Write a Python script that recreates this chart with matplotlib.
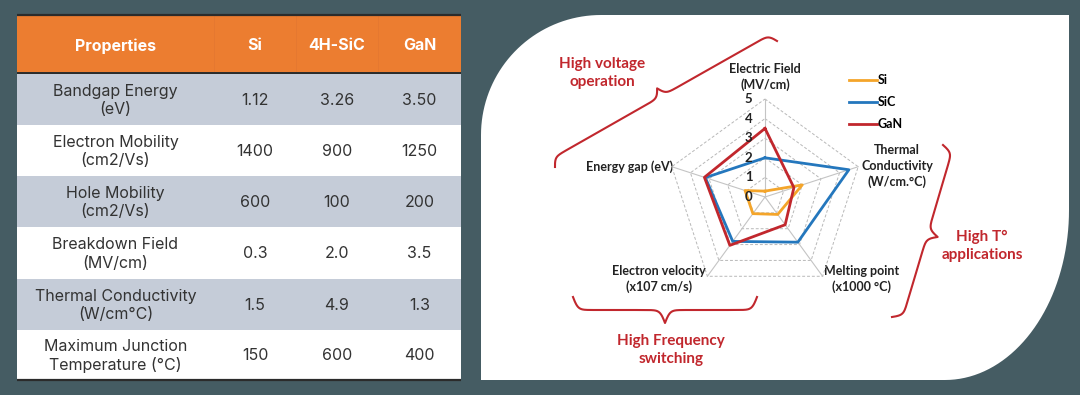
import numpy as np
import matplotlib
matplotlib.use('Agg')
import matplotlib.pyplot as plt
from matplotlib.patches import Rectangle, Polygon

# table data
headers = ['Properties', 'Si', '4H-SiC', 'GaN']
properties = ['Bandgap Energy\n(eV)', 'Electron Mobility\n(cm2/Vs)',
              'Hole Mobility\n(cm2/Vs)', 'Breakdown Field\n(MV/cm)',
              'Thermal Conductivity\n(W/cm°C)', 'Maximum Junction\nTemperature (°C)']
si_tab = ['1.12', '1400', '600', '0.3', '1.5', '150']
sic_tab = ['3.26', '900', '100', '2.0', '4.9', '600']
gan_tab = ['3.50', '1250', '200', '3.5', '1.3', '400']

# radar data
radar_axes = ['Electric Field\n(MV/cm)', 'Thermal\nConductivity\n(W/cm.°C)',
              'Melting point\n(x1000 °C)', 'Electron velocity\n(x107 cm/s)',
              'Energy gap (eV)']
si_r = [0.3, 2.0, 1.1, 1.05, 1.07]
sic_r = [2.0, 4.5, 2.85, 2.8, 3.2]
gan_r = [3.5, 1.55, 1.75, 3.05, 3.25]
series = {'Si': (si_r, '#f4a52a'), 'SiC': (sic_r, '#2477bd'), 'GaN': (gan_r, '#c1272d')}

BG = '#455c63'
RED = '#c1272d'
W, H = 1080, 395

fig = plt.figure(figsize=(10.8, 3.95), dpi=100, facecolor=BG)
bg = fig.add_axes([0, 0, 1, 1])
bg.set_xlim(0, W)
bg.set_ylim(H, 0)
bg.axis('off')

# ---- table ----
tl, tr = 17, 461
col_edges = [tl, 214, 296, 378, tr]
col_mid = [(col_edges[i] + col_edges[i + 1]) / 2 for i in range(4)]
rows = [74, 125, 176, 227, 279, 330, 380]
bg.add_patch(Rectangle((tl, 15), tr - tl, 58, fc='#ec7d30', ec='none'))
for i in range(6):
    fc = '#c5ccd8' if i % 2 == 0 else 'white'
    bg.add_patch(Rectangle((tl, rows[i]), tr - tl, rows[i + 1] - rows[i], fc=fc, ec='none'))
for x in col_edges[1:-1]:
    bg.plot([x, x], [16, 72], color='#e27631', lw=0.5)
for y, lw in ((15, 1.6), (73, 1.4), (380, 1.6)):
    bg.plot([tl, tr], [y, y], color='#2b2b2b', lw=lw, solid_capstyle='butt')
tfont = ['Inter', 'DejaVu Sans']
for x, h in zip(col_mid, headers):
    bg.text(x, 46, h, ha='center', va='center', color='white', fontsize=11.5,
            fontweight='bold', family=tfont)
for i in range(6):
    yc = (rows[i] + rows[i + 1]) / 2 + 1
    bg.text(col_mid[0], yc, properties[i], ha='center', va='center', color='#333333',
            fontsize=11.5, family=tfont, linespacing=1.3)
    for x, v in zip(col_mid[1:], (si_tab[i], sic_tab[i], gan_tab[i])):
        bg.text(x, yc, v, ha='center', va='center', color='#333333', fontsize=11.5,
                family=tfont)

# ---- white panel with rounded corners ----
t1 = np.linspace(np.pi, 1.5 * np.pi, 40)
arc1 = np.column_stack([601 + 120 * np.cos(t1), 135 + 120 * np.sin(t1)])
t2 = np.linspace(0, 0.5 * np.pi, 40)
arc2 = np.column_stack([945 + 124 * np.cos(t2), 210 + 170 * np.sin(t2)])
panel = np.vstack([[[481, 380]], arc1, [[1069, 15]], arc2, [[481, 380]]])
bg.add_patch(Polygon(panel, closed=True, fc='white', ec='none'))


def brace(p1, p2, h, beta=0.4):
    p1, p2 = np.array(p1, float), np.array(p2, float)
    d = p2 - p1
    L = np.hypot(*d)
    u = d / L
    n = np.array([-u[1], u[0]])
    half = np.linspace(0, L / 2, 200)
    y = 1 / (1 + np.exp(-beta * half)) + 1 / (1 + np.exp(-beta * (half - L / 2))) - 0.5
    ys = np.concatenate([y, y[::-1]]) * h
    xs = np.concatenate([half, half + L / 2])
    pts = p1 + np.outer(xs, u) + np.outer(ys, n)
    bg.plot(pts[:, 0], pts[:, 1], color=RED, lw=1.5)


brace((555, 167), (777, 41), -18)
brace((943, 145), (892, 317), -21)
brace((573, 297), (757, 297), 26)

rfont = ['Lato', 'DejaVu Sans']
bg.text(602, 73, 'High voltage\noperation', ha='center', va='center', color=RED,
        fontsize=11, fontweight='bold', family=rfont, linespacing=1.4)
bg.text(982, 246, 'High T°\napplications', ha='center', va='center', color=RED,
        fontsize=11, fontweight='bold', family=rfont, linespacing=1.4)
bg.text(671, 350, 'High Frequency\nswitching', ha='center', va='center', color=RED,
        fontsize=11, fontweight='bold', family=rfont, linespacing=1.35)

# radar axis labels
lab_pos = [(765, 77, 'center'), (897, 166, 'center'), (862, 279, 'center'),
           (659, 279, 'center'), (673, 167, 'right')]
for (x, y, ha), lab in zip(lab_pos, radar_axes):
    bg.text(x, y, lab, ha=ha, va='center', color='#222222', fontsize=9,
            fontweight='bold', family=rfont, linespacing=1.35)

# ---- radar ----
cx, cy, R = 765, 197, 98
rad = fig.add_axes([(cx - R) / W, (H - cy - R) / H, 2 * R / W, 2 * R / H],
                   projection='polar')
rad.set_theta_offset(np.pi / 2)
rad.set_theta_direction(-1)
rad.set_ylim(0, 5)
rad.set_axis_off()
ang = np.arange(5) * 2 * np.pi / 5
closed = np.append(ang, ang[0])
for r in range(1, 6):
    rad.plot(closed, [r] * 6, color='#b8b8b8', lw=0.7, ls=(0, (3, 2)), clip_on=False)
for a in ang:
    rad.plot([a, a], [0, 5], color='#c4c4c4', lw=0.8, clip_on=False)
for r in range(6):
    rad.annotate(str(r), (0, r), xytext=(-9, 0), textcoords='offset points',
                 ha='right', va='center', fontsize=9.5, fontweight='bold',
                 family=rfont, color='#222222')
for name, (vals, col) in series.items():
    rad.plot(closed, vals + vals[:1], color=col, lw=2, label=name, clip_on=False)
leg = rad.legend(loc='upper left', bbox_to_anchor=(838 / W, 1 - 63 / H),
                 bbox_transform=fig.transFigure, frameon=False, handlelength=2.2,
                 handletextpad=0.1, labelspacing=0.8,
                 prop={'family': rfont, 'weight': 'bold', 'size': 9})

fig.savefig('out.png', dpi=100, facecolor=BG)
